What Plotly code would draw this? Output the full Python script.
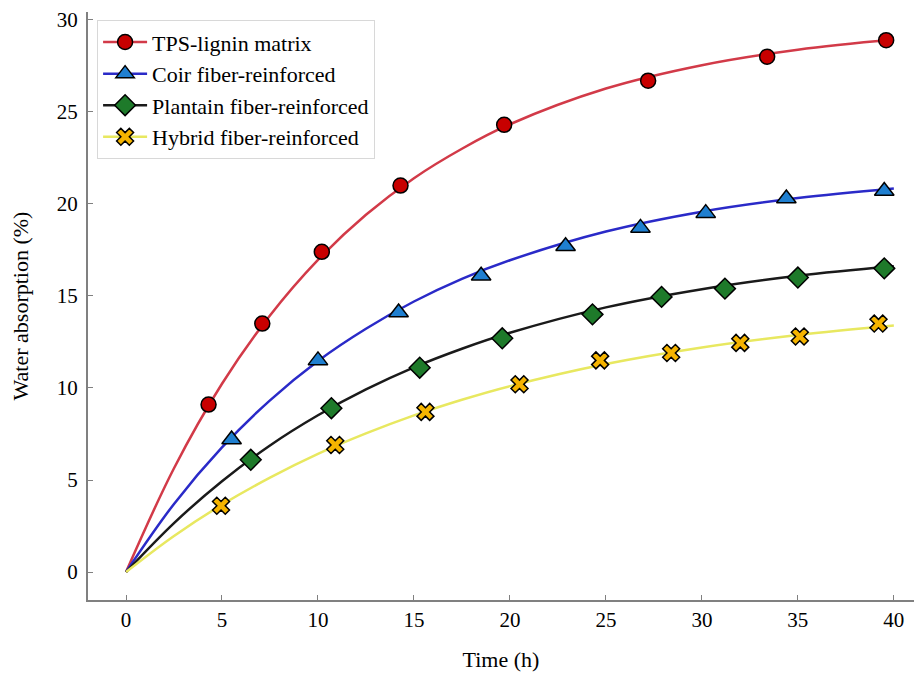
import plotly.graph_objects as go

# Fitted curve sample points
curve_x = [0, 2.5, 5, 7.5, 10, 12.5, 15, 17.5, 20, 25, 30, 35, 40]
tps_curve = [0, 5.64, 10.23, 13.94, 16.96, 19.41, 21.4, 23.0, 24.33, 26.27, 27.54, 28.38, 28.93]
coir_curve = [0, 3.70, 6.77, 9.33, 11.47, 13.22, 14.70, 15.93, 16.94, 18.5, 19.58, 20.32, 20.84]
plantain_curve = [0, 2.66, 4.93, 6.88, 8.52, 9.92, 11.12, 12.13, 13.0, 14.38, 15.37, 16.1, 16.61]
hybrid_curve = [0, 1.96, 3.66, 5.13, 6.42, 7.53, 8.51, 9.36, 10.1, 11.3, 12.2, 12.88, 13.4]

# Measured points
tps_x = [4.3, 7.1, 10.2, 14.3, 19.7, 27.2, 33.4, 39.6]
tps_y = [9.1, 13.5, 17.4, 21.0, 24.3, 26.7, 28.0, 28.9]
coir_x = [5.5, 10.0, 14.2, 18.5, 22.9, 26.8, 30.2, 34.4, 39.5]
coir_y = [7.2, 11.5, 14.1, 16.1, 17.7, 18.7, 19.5, 20.3, 20.7]
plantain_x = [6.5, 10.7, 15.3, 19.6, 24.3, 27.9, 31.2, 35.0, 39.5]
plantain_y = [6.1, 8.9, 11.1, 12.7, 14.0, 14.95, 15.4, 16.0, 16.5]
hybrid_x = [4.95, 10.9, 15.6, 20.5, 24.7, 28.4, 32.0, 35.1, 39.2]
hybrid_y = [3.6, 6.9, 8.7, 10.2, 11.5, 11.9, 12.45, 12.8, 13.5]

x_ticks = [0, 5, 10, 15, 20, 25, 30, 35, 40]
y_ticks = [0, 5, 10, 15, 20, 25, 30]

names = ["TPS-lignin matrix", "Coir fiber-reinforced", "Plantain fiber-reinforced", "Hybrid fiber-reinforced"]
line_colors = ["#d23a48", "#2a2ac8", "#1a1a1a", "#e8e860"]
fill_colors = ["#c80000", "#1f7fd0", "#1e7a2a", "#f5b400"]
symbols = ["circle", "triangle-up", "diamond", "x"]
sizes = [15, 17, 16, 15]

curves = [tps_curve, coir_curve, plantain_curve, hybrid_curve]
pts = [(tps_x, tps_y), (coir_x, coir_y), (plantain_x, plantain_y), (hybrid_x, hybrid_y)]

fig = go.Figure()
for i in range(4):
    fig.add_trace(go.Scatter(x=curve_x, y=curves[i], mode="lines", line=dict(color=line_colors[i], width=2.5, shape="spline"),
                             showlegend=False, hoverinfo="skip"))
for i in range(4):
    fig.add_trace(go.Scatter(x=pts[i][0], y=pts[i][1], mode="markers",
                             marker=dict(symbol=symbols[i], size=sizes[i], color=fill_colors[i],
                                         line=dict(color="black", width=1.5)),
                             showlegend=False))
for i in range(4):
    fig.add_trace(go.Scatter(x=[None], y=[None], mode="lines+markers", name=names[i],
                             line=dict(color=line_colors[i], width=2.5),
                             marker=dict(symbol=symbols[i], size=sizes[i], color=fill_colors[i],
                                         line=dict(color="black", width=1.5))))

font = "Liberation Serif, Times New Roman, serif"
fig.update_layout(
    width=914, height=673,
    margin=dict(l=88, r=0, t=12, b=73),
    paper_bgcolor="white", plot_bgcolor="white",
    font=dict(family=font, size=21, color="black"),
    legend=dict(x=0.011, y=0.986, xanchor="left", yanchor="top", bgcolor="white",
                bordercolor="#d8d8d8", borderwidth=1, font=dict(size=22, family=font),
                tracegroupgap=0, itemwidth=44),
    xaxis=dict(range=[-1.98, 41.05], tickvals=x_ticks, showgrid=False, zeroline=False, automargin=False,
               showline=True, linecolor="#808080", linewidth=2, ticks="inside", ticklen=5, tickcolor="#808080",
               title=dict(text="Time (h)", font=dict(size=22, family=font), standoff=20),
               tickfont=dict(size=21, family=font)),
    yaxis=dict(range=[-1.52, 30.43], tickvals=y_ticks, showgrid=False, zeroline=False, automargin=False,
               showline=True, linecolor="#808080", linewidth=2, ticks="inside", ticklen=5, tickcolor="#808080",
               title=dict(text="Water absorption (%)", font=dict(size=22, family=font), standoff=22),
               tickfont=dict(size=21, family=font), ticklabelstandoff=4),
)
fig.write_html("out.html", config={"displayModeBar": False},
               post_script="document.body.style.margin='0';document.body.style.overflow='hidden';")
